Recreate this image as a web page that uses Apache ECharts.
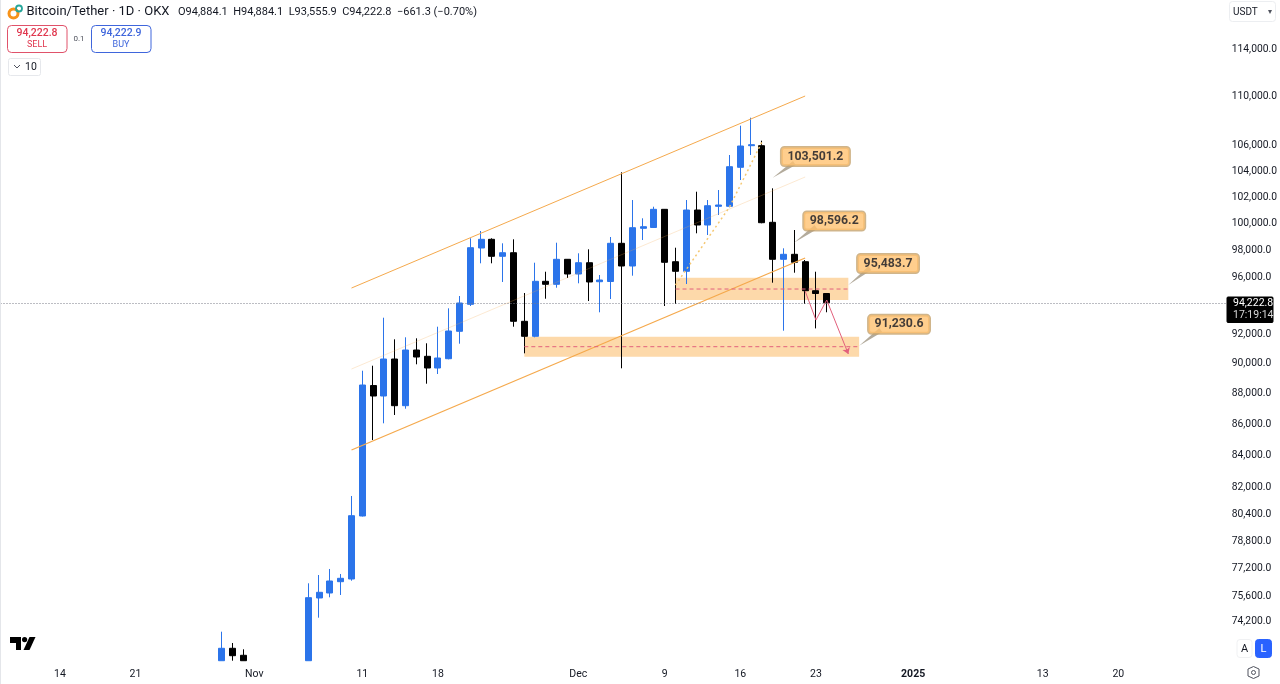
<!DOCTYPE html>
<html>
<head>
<meta charset="utf-8">
<style>
  html, body { margin: 0; padding: 0; background: #fff; }
  #chart { width: 1280px; height: 684px; }
</style>
<script src="https://cdn.jsdelivr.net/npm/echarts@6/dist/echarts.min.js"></script>
</head>
<body>
<div id="chart"></div>
<script>
// Axis days, one category per calendar day
var days = [
  'Oct 09','Oct 10','Oct 11','Oct 12','Oct 13','Oct 14','Oct 15','Oct 16','Oct 17','Oct 18','Oct 19','Oct 20',
  'Oct 21','Oct 22','Oct 23','Oct 24','Oct 25','Oct 26','Oct 27','Oct 28','Oct 29','Oct 30','Oct 31',
  'Nov 01','Nov 02','Nov 03','Nov 04','Nov 05','Nov 06','Nov 07','Nov 08','Nov 09','Nov 10','Nov 11','Nov 12',
  'Nov 13','Nov 14','Nov 15','Nov 16','Nov 17','Nov 18','Nov 19','Nov 20','Nov 21','Nov 22','Nov 23','Nov 24',
  'Nov 25','Nov 26','Nov 27','Nov 28','Nov 29','Nov 30',
  'Dec 01','Dec 02','Dec 03','Dec 04','Dec 05','Dec 06','Dec 07','Dec 08','Dec 09','Dec 10','Dec 11','Dec 12',
  'Dec 13','Dec 14','Dec 15','Dec 16','Dec 17','Dec 18','Dec 19','Dec 20','Dec 21','Dec 22','Dec 23','Dec 24',
  'Dec 25','Dec 26','Dec 27','Dec 28','Dec 29','Dec 30','Dec 31',
  'Jan 01','Jan 02','Jan 03','Jan 04','Jan 05','Jan 06','Jan 07','Jan 08','Jan 09','Jan 10','Jan 11','Jan 12',
  'Jan 13','Jan 14','Jan 15','Jan 16','Jan 17','Jan 18','Jan 19','Jan 20','Jan 21','Jan 22','Jan 23','Jan 24',
  'Jan 25','Jan 26','Jan 27','Jan 28','Jan 29','Jan 30'
];
var tickDays = ['Oct 14','Oct 21','Nov 01','Nov 11','Nov 18','Dec 01','Dec 09','Dec 16','Dec 23','Jan 01','Jan 13','Jan 20'];
var tickLabels = ['14','21','Nov','11','18','Dec','9','16','23','2025','13','20'];
var priceTicks = [114000,110000,106000,104000,102000,100000,98000,96000,92000,90000,88000,86000,84000,82000,80400,78800,77200,75600,74200];

// Daily candles [open, close, low, high] split by field
var candleDays = [
  'Oct 29','Oct 30','Oct 31','Nov 06','Nov 07','Nov 08','Nov 09','Nov 10','Nov 11','Nov 12','Nov 13','Nov 14','Nov 15',
  'Nov 16','Nov 17','Nov 18','Nov 19','Nov 20','Nov 21','Nov 22','Nov 23','Nov 24','Nov 25','Nov 26','Nov 27','Nov 28',
  'Nov 29','Nov 30','Dec 01','Dec 02','Dec 03','Dec 04','Dec 05','Dec 06','Dec 07','Dec 08','Dec 09','Dec 10','Dec 11',
  'Dec 12','Dec 13','Dec 14','Dec 15','Dec 16','Dec 17','Dec 18','Dec 19','Dec 20','Dec 21','Dec 22','Dec 23','Dec 24'
];
// the first candles run off the bottom of the pane, read at its edge
var opens = [
  72024,72698,72317,72024,75496,75780,76425,76580,80289,88550,87857,90331,87220,
  90943,90515,89723,90351,92229,94117,98181,98824,97571,97835,92924,91884,95757,
  95541,97351,96283,97103,95728,95742,98528,96863,99644,99704,101074,97176,96478,
  101021,99891,101303,101303,104313,106019,106019,100094,97351,97718,97176,95083,94884.1
];
var closes = [
  72698,72295,72024,75514,75819,76465,76620,80307,88585,87857,90331,87220,90943,
  90467,89723,90399,92250,94209,98203,98824,97571,97835,92924,91884,95757,95541,
  97351,96283,97103,95707,95850,98528,96863,99689,99764,101074,97133,96478,101021,
  99891,101348,101401,104360,105994,106098,100064,97351,97718,97133,95083,94884,94222.8
];
var lows = [
  72024,72024,72024,72024,74388,75535,75666,76482,80260,85002,86075,86613,87023,
  89973,88672,89320,90310,91375,93997,97060,97060,95707,92548,90719,91815,94514,
  95298,95994,95613,94350,93554,94492,89703,96161,98772,99689,93997,94139,95563,
  99270,99144,100643,101227,103322,105280,100019,95657,92271,96377,94139,92431,93555.9
];
var highs = [
  73610,72988,72643,76333,76810,77157,76868,81504,89541,89878,93175,91676,91815,
  91745,91402,92548,93835,94706,98899,99442,98900,98528,98824,94919,97103,96449,
  98572,97373,97791,98085,96211,98995,103922,101782,100394,101272,101097,98203,101782,
  102419,101782,102549,105280,107621,108269,106416,102680,98159,99516,97300,96449,94884.1
];

var lastPrice = 94222.8;

// Drawings on the chart
var channelDays = ['Nov 10', 'Dec 22'];
var channelTop = [95275, 110047];
var channelMid = [89655, 103555];
var channelBottom = [84366, 97447];
var dottedDays = ['Dec 10', 'Dec 15', 'Dec 18'];
var dottedPrices = [95492, 101249, 106312];
var arrowDays = ['Dec 22', 'Dec 23', 'Dec 24', 'Dec 26'];
var arrowPrices = [95062, 93014, 94421, 90671];
var zoneStart = ['Dec 10', 'Nov 26'];
var zoneEnd = ['Dec 26', 'Dec 27'];
var zoneHigh = [96015, 91856];
var zoneLow = [94421, 90487];
var zoneMid = [95204, 91170];

var calloutTexts = ['103,501.2', '98,596.2', '95,483.7', '91,230.6'];
var calloutDays = ['Dec 23', 'Dec 24', 'Dec 30', 'Dec 31'];
var calloutPrices = [105162, 100190, 97045, 92714];
var tipDays = ['Dec 19', 'Dec 21', 'Dec 26', 'Dec 27'];
var tipPrices = [103501.2, 98596.2, 95483.7, 91230.6];
var tailDays = ['Dec 21', 'Dec 23', 'Dec 28', 'Dec 29'];
var tailPrices = [104650, 99741, 96716, 92319];

var UP = '#2b74ea';
var DOWN = '#000000';
var ORANGE = '#f5a94c';
var RED = '#e2607c';
var FONT = 'Roboto, "Open Sans", sans-serif';

function fmtPrice(v) {
  return v.toLocaleString('en-US', { minimumFractionDigits: 1, maximumFractionDigits: 1 });
}

function lineSeries(xs, ys, style, z) {
  return {
    type: 'line',
    silent: true,
    z: z || 3,
    symbol: 'none',
    animation: false,
    lineStyle: style,
    data: xs.map(function (d, i) { return [d, ys[i]]; })
  };
}

var candles = days.map(function (d) {
  var i = candleDays.indexOf(d);
  return i < 0 ? ['-', '-', '-', '-'] : [opens[i], closes[i], lows[i], highs[i]];
});

var series = [
  // zones under everything
  {
    type: 'line',
    silent: true,
    z: 1,
    data: [],
    markArea: {
      silent: true,
      itemStyle: { color: '#fdd9aa' },
      data: zoneStart.map(function (d, i) {
        return [{ xAxis: d, yAxis: zoneHigh[i] }, { xAxis: zoneEnd[i], yAxis: zoneLow[i] }];
      })
    }
  },
  {
    type: 'candlestick',
    z: 2,
    barWidth: 6.6,
    itemStyle: { color: UP, color0: DOWN, borderColor: UP, borderColor0: DOWN, borderWidth: 1 },
    markLine: {
      silent: true,
      symbol: 'none',
      label: { show: false },
      lineStyle: { color: '#787b86', type: [1, 2], width: 1 },
      data: [{ yAxis: lastPrice }]
    },
    data: candles
  },
  lineSeries(channelDays, channelTop, { color: ORANGE, width: 1 }),
  lineSeries(channelDays, channelMid, { color: 'rgba(245,169,76,0.25)', width: 1 }),
  lineSeries(channelDays, channelBottom, { color: ORANGE, width: 1.3 }),
  lineSeries(dottedDays, dottedPrices, { color: '#f5c872', width: 1.5, type: [2, 3] }),
  lineSeries(arrowDays.slice(0, 3), arrowPrices.slice(0, 3), { color: RED, width: 1 })
];

// Arrow leg with head
series.push({
  type: 'line',
  silent: true,
  z: 3,
  data: [],
  markLine: {
    silent: true,
    animation: false,
    symbol: ['none', 'arrow'],
    symbolSize: 6,
    label: { show: false },
    lineStyle: { color: RED, width: 1, type: 'solid' },
    data: [[{ xAxis: arrowDays[2], yAxis: arrowPrices[2] }, { xAxis: arrowDays[3], yAxis: arrowPrices[3] }]]
  }
});

// Dashed mid lines of the zones
zoneStart.forEach(function (d, i) {
  series.push(lineSeries([d, zoneEnd[i]], [zoneMid[i], zoneMid[i]], { color: RED, width: 1, type: [4, 3] }));
});

// Callout tails, thin at the tip and wide where they meet the box
series.push({
  type: 'custom',
  silent: true,
  z: 4,
  clip: false,
  encode: { x: [0, 2], y: [1, 3] },
  data: tipDays.map(function (d, i) {
    return [days.indexOf(d), tipPrices[i], days.indexOf(tailDays[i]), tailPrices[i]];
  }),
  renderItem: function (params, api) {
    var tip = api.coord([api.value(0), api.value(1)]);
    var end = api.coord([api.value(2), api.value(3)]);
    var dx = end[0] - tip[0], dy = end[1] - tip[1];
    var len = Math.sqrt(dx * dx + dy * dy);
    var nx = -dy / len * 2.4, ny = dx / len * 2.4;
    return {
      type: 'polygon',
      shape: { points: [tip, [end[0] + nx, end[1] + ny], [end[0] - nx, end[1] - ny]] },
      style: { fill: '#b3ab9c' }
    };
  }
});

var calloutOffsets = [[-0.5, 0], [7.5, 0], [-3.5, 0], [-3.3, 0]];
series.push({
  type: 'scatter',
  silent: true,
  z: 5,
  symbolSize: 0,
  data: calloutDays.map(function (d, i) {
    return {
      value: [d, calloutPrices[i]],
      label: { formatter: calloutTexts[i], offset: calloutOffsets[i] }
    };
  }),
  label: {
    show: true,
    position: 'inside',
    color: '#131722',
    fontFamily: FONT,
    fontWeight: 'bold',
    fontSize: 12.3,
    backgroundColor: '#ffc271',
    borderColor: '#c4a26e',
    borderWidth: 1.5,
    borderRadius: 3,
    padding: [3, 6, 3, 6]
  }
});

function text(x, y, str, size, color, extra) {
  return {
    type: 'text',
    x: x,
    y: y,
    silent: true,
    z: 20,
    style: Object.assign({
      text: str,
      fontSize: size,
      fontFamily: FONT,
      fill: color,
      textAlign: 'left',
      textVerticalAlign: 'middle'
    }, extra || {})
  };
}

function box(x, y, w, h, r, fill, stroke) {
  return {
    type: 'rect',
    silent: true,
    z: 19,
    shape: { x: x, y: y, width: w, height: h, r: r },
    style: { fill: fill, stroke: stroke, lineWidth: 1 }
  };
}

function poly(points, fill) {
  return { type: 'polygon', silent: true, z: 20, shape: { points: points }, style: { fill: fill } };
}

var graphics = [
  // left edge
  box(0, 0, 1, 684, 0, '#e4e6ea', null),
  // symbol icon
  { type: 'circle', silent: true, z: 20, shape: { cx: 13.5, cy: 13.5, r: 4.5 }, style: { fill: 'none', stroke: '#f7931a', lineWidth: 3 } },
  { type: 'circle', silent: true, z: 20, shape: { cx: 19, cy: 8.5, r: 3 }, style: { fill: 'none', stroke: '#26a69a', lineWidth: 1.8 } },
  text(26.5, 12, 'Bitcoin/Tether · 1D · OKX', 13, '#131722'),
  text(178, 12, 'O94,884.1  H94,884.1  L93,555.9  C94,222.8  −661.3 (−0.70%)', 11, '#131722'),
  // sell / buy
  box(7.5, 25.5, 59.5, 27, 4, '#fff', '#e0526a'),
  text(37, 33.5, '94,222.8', 10.5, '#e0384f', { textAlign: 'center', fontWeight: 500 }),
  text(37, 45, 'SELL', 9, '#e0384f', { textAlign: 'center' }),
  text(79, 39, '0.1', 8, '#50535e', { textAlign: 'center' }),
  box(91.5, 25.5, 59.5, 27, 4, '#fff', '#3f66dc'),
  text(121, 33.5, '94,222.9', 10.5, '#3f66dc', { textAlign: 'center', fontWeight: 500 }),
  text(121, 45, 'BUY', 9, '#3f66dc', { textAlign: 'center' }),
  // quantity
  box(8.5, 58.5, 32, 17, 2, '#fff', '#e6e8ec'),
  { type: 'polyline', silent: true, z: 20, shape: { points: [[14, 65], [17, 68], [20, 65]] }, style: { fill: 'none', stroke: '#50535e', lineWidth: 1 } },
  text(25, 67, '10', 10.5, '#131722'),
  // currency
  box(1229.5, 1.5, 46, 20, 3, '#fff', '#eceef1'),
  text(1233, 12, 'USDT', 10, '#131722'),
  text(1268, 12, '▾', 8, '#50535e'),
  // last price tag
  box(1227, 297, 46, 25.5, 1, '#000', '#000'),
  text(1233, 303.5, '94,222.8', 10.5, '#fff'),
  text(1233, 315.5, '17:19:14', 10.5, '#d8d8d8'),
  // scale buttons
  box(1237, 639.5, 15, 18, 3, '#fff', '#f0f1f3'),
  text(1244.5, 649, 'A', 11, '#131722', { textAlign: 'center' }),
  box(1255.5, 639.5, 16, 18, 3, '#2962ff', '#2962ff'),
  text(1263.5, 649, 'L', 11, '#fff', { textAlign: 'center' }),
  // settings
  { type: 'polygon', silent: true, z: 20, shape: { points: [[1248, 669], [1253.5, 666.5], [1259, 669], [1259, 676], [1253.5, 678.5], [1248, 676]] }, style: { fill: 'none', stroke: '#50535e', lineWidth: 1 } },
  { type: 'circle', silent: true, z: 20, shape: { cx: 1253.5, cy: 672.5, r: 2 }, style: { fill: 'none', stroke: '#50535e', lineWidth: 1 } },
  // logo
  poly([[10, 637], [21, 637], [21, 650], [16, 650], [16, 643], [10, 643]], '#000'),
  { type: 'circle', silent: true, z: 20, shape: { cx: 24.6, cy: 639.6, r: 2.6 }, style: { fill: '#000' } },
  poly([[29.5, 637], [35.5, 637], [29.5, 650], [23.5, 650]], '#000')
];

var chart = echarts.init(document.getElementById('chart'), null, { renderer: 'canvas' });

chart.setOption({
  backgroundColor: '#ffffff',
  animation: false,
  // the pane runs under the price tag; the scale labels start right at its edge
  grid: { left: 0.5, right: 46.5, top: 0, bottom: 23 },
  xAxis: {
    type: 'category',
    data: days,
    axisLine: { show: false },
    axisTick: { show: false },
    splitLine: { show: false },
    axisLabel: {
      color: '#131722',
      fontFamily: FONT,
      fontSize: 10.5,
      margin: 8,
      hideOverlap: false,
      interval: function (i, value) { return tickDays.indexOf(value) >= 0; },
      formatter: function (value) {
        var label = tickLabels[tickDays.indexOf(value)];
        return label === '2025' ? '{b|2025}' : label;
      },
      rich: { b: { fontWeight: 'bold', fontSize: 10.5, fontFamily: FONT, color: '#131722' } }
    }
  },
  yAxis: {
    type: 'log',
    position: 'right',
    min: 72008,
    max: 118272,
    axisLine: { show: false },
    axisTick: { show: false },
    splitLine: { show: false },
    minorTick: { show: false },
    axisLabel: {
      customValues: priceTicks,
      color: '#131722',
      fontFamily: FONT,
      fontSize: 10.3,
      margin: 0,
      formatter: function (v) { return fmtPrice(v); }
    }
  },
  series: series,
  graphic: graphics
});
</script>
</body>
</html>
